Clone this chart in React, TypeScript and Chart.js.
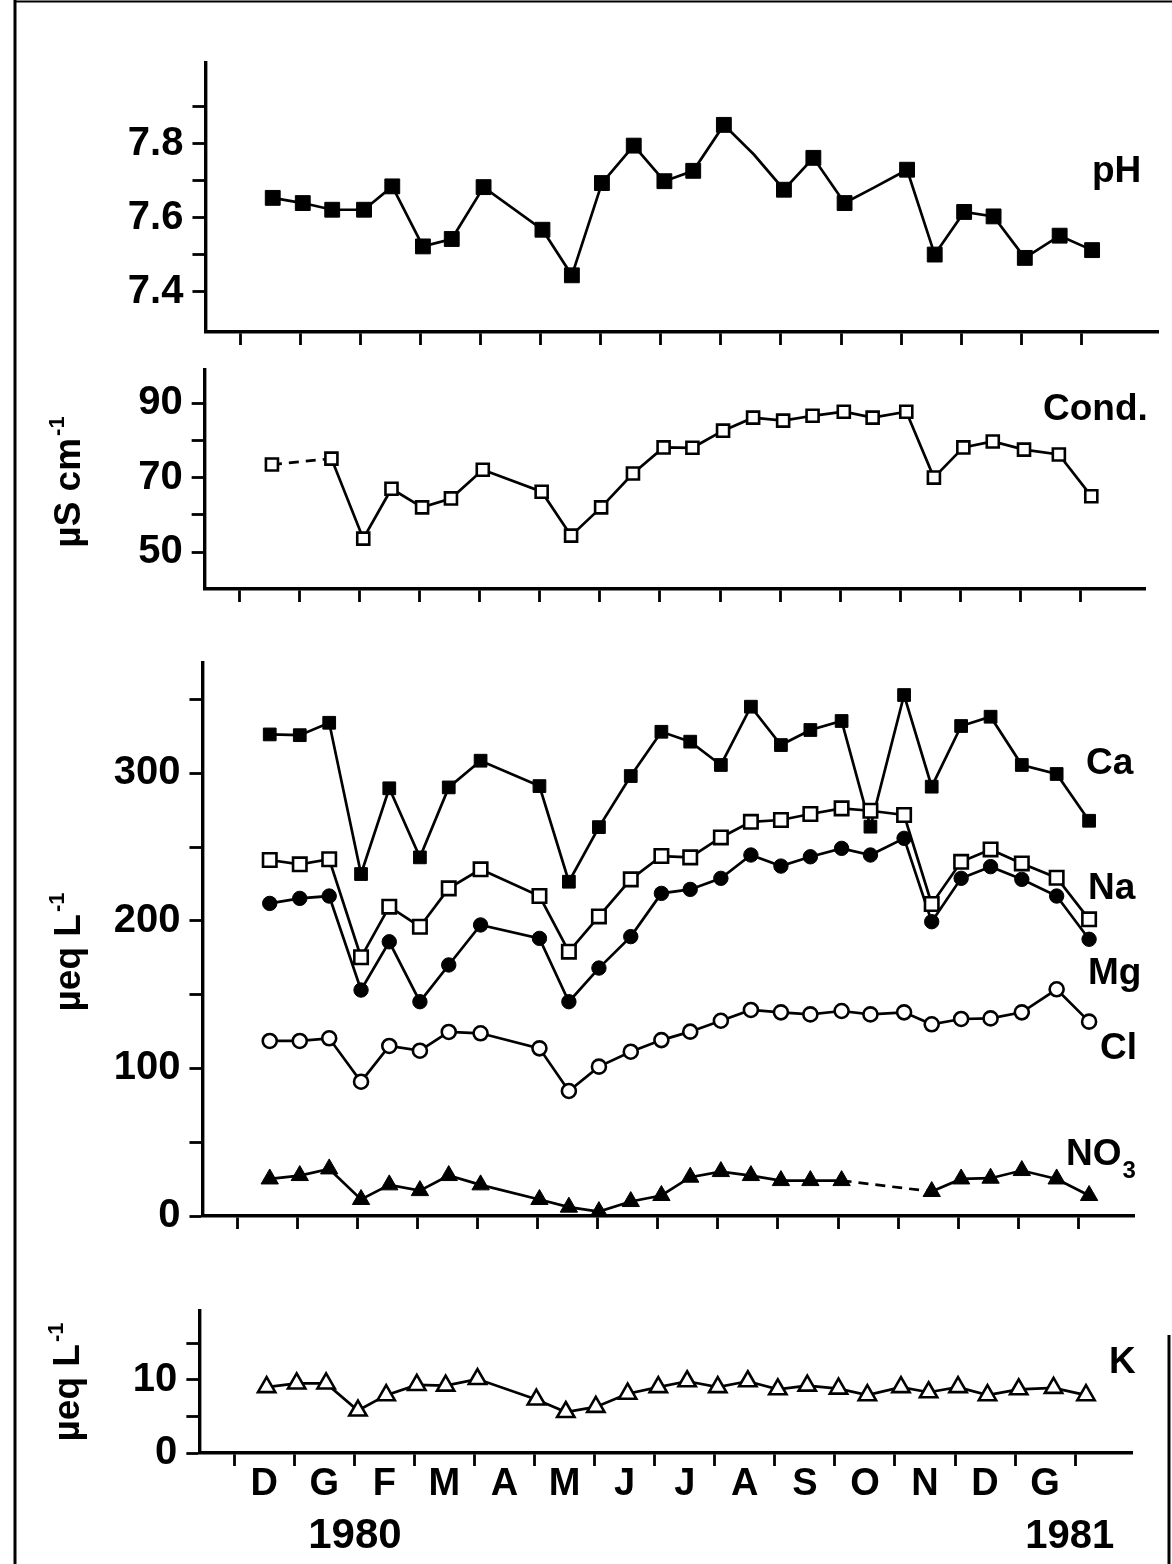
import React, { useEffect, useRef } from 'react';
import { Chart, registerables } from 'chart.js';

Chart.register(...registerables);

const W = 1172;
const H = 1564;
const PX_PER_MONTH = 60.07;
const X_MIN = -0.58;
const FONT = "'Liberation Sans', Arial, Helvetica, sans-serif";

// Sampling dates, in months from the start of the first labelled month (D)
const sampleMonths = [0.54, 1.04, 1.53, 2.06, 2.53, 3.04, 3.52, 4.05, 5.03, 5.52, 6.02, 6.55, 7.06, 7.54, 8.05, 8.55, 9.05, 9.54, 10.06, 10.54, 11.1, 11.56, 12.05, 12.54, 13.06, 13.64, 14.18];
const monthTicks = [0, 1, 2, 3, 4, 5, 6, 7, 8, 9, 10, 11, 12, 13, 14];
const monthLabels = ['D', 'G', 'F', 'M', 'A', 'M', 'J', 'J', 'A', 'S', 'O', 'N', 'D', 'G'];
const yearLabels = ['1980', '1981'];

const phValues = [7.654, 7.64, 7.622, 7.622, 7.685, 7.523, 7.543, 7.683, 7.568, 7.445, 7.694, 7.795, 7.699, 7.727, 7.851, 7.771, 7.676, 7.762, 7.64, 7.681, 7.73, 7.501, 7.616, 7.604, 7.492, 7.552, 7.513];
const phUnmarked = [15, 19];
const condValues = [73.5, null, 75.1, 53.6, 67.0, 62.0, 64.4, 72.1, 66.2, 54.4, 62.0, 71.1, 78.1, 78.0, 82.6, 86.1, 85.3, 86.6, 87.7, 86.1, 87.7, 70.0, 78.1, 79.7, 77.5, 76.2, 65.0];
const caValues = [326.3, 325.8, 334.2, 231.7, 289.8, 243.0, 290.4, 308.5, 291.3, 226.5, 263.5, 298.1, 328.1, 321.4, 305.6, 345.1, 319.1, 329.3, 335.4, 263.8, 353.0, 290.9, 332.0, 338.3, 305.6, 299.5, 267.8];
const naValues = [241.2, 238.3, 241.7, 175.3, 209.6, 196.0, 222.0, 234.9, 216.8, 179.1, 203.0, 228.1, 243.9, 243.0, 256.5, 267.1, 268.3, 272.4, 276.2, 274.6, 271.7, 211.4, 240.0, 248.4, 238.9, 229.2, 201.0];
const mgValues = [211.8, 215.2, 216.8, 153.1, 185.8, 145.2, 170.1, 197.2, 188.1, 145.2, 168.0, 189.3, 218.6, 221.3, 228.8, 244.6, 237.1, 243.4, 249.1, 244.6, 255.9, 199.4, 228.8, 236.7, 228.1, 216.8, 187.5];
const clValues = [118.6, 118.6, 120.4, 91.0, 115.2, 112.0, 124.7, 123.8, 113.6, 84.7, 101.2, 111.3, 119.2, 124.9, 132.3, 139.6, 138.0, 136.6, 138.9, 136.6, 138.0, 129.9, 133.5, 133.9, 138.0, 153.6, 131.7];
const no3Values = [25.1, 27.4, 31.9, 11.2, 21.1, 17.2, 27.4, 21.1, 11.2, 6.0, 3.0, 9.8, 13.9, 26.3, 30.1, 27.4, 24.0, 24.0, 24.0, null, null, 16.6, 25.1, 25.6, 30.8, 25.1, 13.9];
const kValues = [9.0, 9.5, 9.5, 5.8, 7.9, 9.3, 9.2, 10.1, 7.3, 5.6, 6.3, 8.1, 9.0, 9.8, 9.0, 9.8, 8.7, 9.2, 8.8, 7.9, 9.0, 8.3, 9.0, 7.9, 8.7, 8.9, 7.9];

const phTicks = [7.4, 7.5, 7.6, 7.7, 7.8, 7.9];
const phTickLabels = ['7.4', '', '7.6', '', '7.8', ''];
const condTicks = [50, 60, 70, 80, 90];
const condTickLabels = ['50', '', '70', '', '90'];
const ionTicks = [0, 50, 100, 150, 200, 250, 300, 350];
const ionTickLabels = ['0', '', '100', '', '200', '', '300', ''];
const kTicks = [0, 5, 10, 15];
const kTickLabels = ['0', '', '10', ''];

type Marker = {
  style: string;
  radius: number;
  filled: boolean;
  hidden?: number[];
};

function series(values: (number | null)[], m: Marker) {
  const hidden = m.hidden || [];
  return {
    data: sampleMonths.map((x, i) => ({ x, y: values[i] })),
    borderColor: '#000',
    borderWidth: 2.7,
    spanGaps: true,
    clip: false as any,
    tension: 0,
    segment: {
      borderDash: (ctx: any) => (ctx.p0.skip || ctx.p1.skip ? [10, 7] : undefined),
    },
    pointStyle: m.style,
    pointRadius: (ctx: any) => (hidden.includes(ctx.dataIndex) ? 0 : m.radius),
    pointBackgroundColor: m.filled ? '#000' : '#fff',
    pointBorderColor: '#000',
    pointBorderWidth: m.filled ? 1 : 2.6,
  };
}

function txt(ctx: CanvasRenderingContext2D, s: string, x: number, y: number, size: number, weight = 'bold', align: CanvasTextAlign = 'left') {
  ctx.font = `${weight} ${size}px ${FONT}`;
  ctx.textAlign = align;
  ctx.textBaseline = 'alphabetic';
  ctx.fillStyle = '#000';
  ctx.fillText(s, x, y);
}

function rotatedTitle(ctx: CanvasRenderingContext2D, main: string, sup: string, baselineX: number, cy: number) {
  ctx.save();
  ctx.translate(baselineX, cy);
  ctx.rotate(-Math.PI / 2);
  ctx.fillStyle = '#000';
  ctx.textBaseline = 'alphabetic';
  ctx.textAlign = 'left';
  ctx.font = `bold 37px ${FONT}`;
  const wMain = ctx.measureText(main).width;
  ctx.font = `bold 22px ${FONT}`;
  const wSup = ctx.measureText(sup).width;
  const total = wMain + 2 + wSup;
  ctx.font = `bold 37px ${FONT}`;
  ctx.fillText(main, -total / 2, 0);
  ctx.font = `bold 22px ${FONT}`;
  ctx.fillText(sup, -total / 2 + wMain + 2, -16);
  ctx.restore();
}

type PanelSpec = {
  t0: number;
  xMax: number;
  top: number;
  bottom: number;
  yMin: number;
  yMax: number;
  yTicks: number[];
  yTickLabels: string[];
  datasets: any[];
  draw: (chart: any) => void;
};

function buildConfig(p: PanelSpec): any {
  const yAxisX = p.t0 + X_MIN * PX_PER_MONTH;
  const right = p.t0 + p.xMax * PX_PER_MONTH;
  return {
    type: 'line',
    data: { datasets: p.datasets },
    options: {
      responsive: false,
      maintainAspectRatio: false,
      animation: false,
      devicePixelRatio: 1,
      events: [],
      layout: { padding: { top: p.top, right: W - right, bottom: 0, left: 0 } },
      plugins: { legend: { display: false }, tooltip: { enabled: false }, title: { display: false } },
      scales: {
        x: {
          type: 'linear',
          position: 'bottom',
          min: X_MIN,
          max: p.xMax,
          afterFit: (s: any) => {
            s.height = H - p.bottom;
          },
          afterBuildTicks: (s: any) => {
            s.ticks = monthTicks.map((v) => ({ value: v }));
          },
          ticks: { display: false, autoSkip: false },
          grid: { drawOnChartArea: false, drawTicks: true, tickLength: 13, tickWidth: 2.8, tickColor: '#000', color: '#000' },
          border: { display: true, width: 3.4, color: '#000' },
        },
        y: {
          type: 'linear',
          position: 'left',
          min: p.yMin,
          max: p.yMax,
          afterFit: (s: any) => {
            s.width = yAxisX;
          },
          afterBuildTicks: (s: any) => {
            s.ticks = p.yTicks.map((v) => ({ value: v }));
          },
          ticks: {
            autoSkip: false,
            padding: 9,
            color: '#000',
            font: { family: FONT, size: 40, weight: 'bold' },
            callback: (_v: any, i: number) => p.yTickLabels[i] ?? '',
          },
          grid: { drawOnChartArea: false, drawTicks: true, tickLength: 13, tickWidth: 2.8, tickColor: '#000', color: '#000' },
          border: { display: true, width: 3.4, color: '#000' },
        },
      },
    },
    plugins: [{ id: 'panelText', afterDraw: p.draw }],
  };
}

const panels: PanelSpec[] = [
  {
    t0: 240.3,
    xMax: 15.28,
    top: 63,
    bottom: 332,
    yMin: 7.292,
    yMax: 8.018,
    yTicks: phTicks,
    yTickLabels: phTickLabels,
    datasets: [series(phValues, { style: 'rect', radius: 10.5, filled: true, hidden: phUnmarked })],
    draw: (chart: any) => {
      const ctx: CanvasRenderingContext2D = chart.ctx;
      ctx.save();
      ctx.strokeStyle = '#000';
      ctx.lineWidth = 3;
      ctx.beginPath();
      ctx.moveTo(15, 0);
      ctx.lineTo(15, H);
      ctx.stroke();
      ctx.lineWidth = 2;
      ctx.beginPath();
      ctx.moveTo(15, 1.5);
      ctx.lineTo(W, 1.5);
      ctx.stroke();
      ctx.lineWidth = 3;
      ctx.beginPath();
      ctx.moveTo(1169, 1335);
      ctx.lineTo(1169, H);
      ctx.stroke();
      txt(ctx, 'pH', 1092, 182, 37);
      ctx.restore();
    },
  },
  {
    t0: 239.5,
    xMax: 15.09,
    top: 370,
    bottom: 589,
    yMin: 40.07,
    yMax: 98.9,
    yTicks: condTicks,
    yTickLabels: condTickLabels,
    datasets: [series(condValues, { style: 'rect', radius: 8.5, filled: false })],
    draw: (chart: any) => {
      const ctx: CanvasRenderingContext2D = chart.ctx;
      txt(ctx, 'Cond.', 1043, 420, 37);
      rotatedTitle(ctx, 'µS cm', '-1', 80, 482);
    },
  },
  {
    t0: 237.3,
    xMax: 14.94,
    top: 663,
    bottom: 1216,
    yMin: 0,
    yMax: 374.7,
    yTicks: ionTicks,
    yTickLabels: ionTickLabels,
    datasets: [
      series(naValues, { style: 'rect', radius: 9.5, filled: false }),
      series(mgValues, { style: 'circle', radius: 7.2, filled: true }),
      series(caValues, { style: 'rect', radius: 9, filled: true }),
      series(clValues, { style: 'circle', radius: 7, filled: false }),
      series(no3Values, { style: 'triangle', radius: 10, filled: true }),
    ],
    draw: (chart: any) => {
      const ctx: CanvasRenderingContext2D = chart.ctx;
      txt(ctx, 'Ca', 1086, 774, 37);
      txt(ctx, 'Na', 1088, 899, 37);
      txt(ctx, 'Mg', 1088, 984, 37);
      txt(ctx, 'Cl', 1100, 1059, 37);
      txt(ctx, 'NO', 1066, 1165, 37);
      ctx.font = `bold 37px ${FONT}`;
      const wNO = ctx.measureText('NO').width;
      txt(ctx, '3', 1066 + wNO + 1, 1178, 24);
      rotatedTitle(ctx, 'µeq L', '-1', 80, 952);
    },
  },
  {
    t0: 234.2,
    xMax: 14.95,
    top: 1311,
    bottom: 1453,
    yMin: 0,
    yMax: 19.4,
    yTicks: kTicks,
    yTickLabels: kTickLabels,
    datasets: [series(kValues, { style: 'triangle', radius: 10, filled: false })],
    draw: (chart: any) => {
      const ctx: CanvasRenderingContext2D = chart.ctx;
      const xs = chart.scales.x;
      txt(ctx, 'K', 1109, 1373, 37);
      monthLabels.forEach((m, i) => {
        txt(ctx, m, xs.getPixelForValue(i + 0.5), 1495, 38, 'bold', 'center');
      });
      txt(ctx, yearLabels[0], xs.getPixelForValue(2.01), 1548, 42, 'bold', 'center');
      txt(ctx, yearLabels[1], xs.getPixelForValue(13.91), 1548, 40, 'bold', 'center');
      rotatedTitle(ctx, 'µeq L', '-1', 79, 1382);
    },
  },
];

function Panel({ spec }: { spec: PanelSpec }) {
  const ref = useRef<HTMLCanvasElement>(null);
  useEffect(() => {
    const chart = new Chart(ref.current as HTMLCanvasElement, buildConfig(spec));
    return () => chart.destroy();
  }, [spec]);
  return (
    <canvas
      ref={ref}
      width={W}
      height={H}
      style={{ position: 'absolute', left: 0, top: 0, width: W, height: H, pointerEvents: 'none' }}
    />
  );
}

export default function App() {
  return (
    <div style={{ position: 'absolute', left: 0, top: 0, width: W, height: H, background: '#fff', overflow: 'hidden' }}>
      {panels.map((p, i) => (
        <Panel key={i} spec={p} />
      ))}
    </div>
  );
}
